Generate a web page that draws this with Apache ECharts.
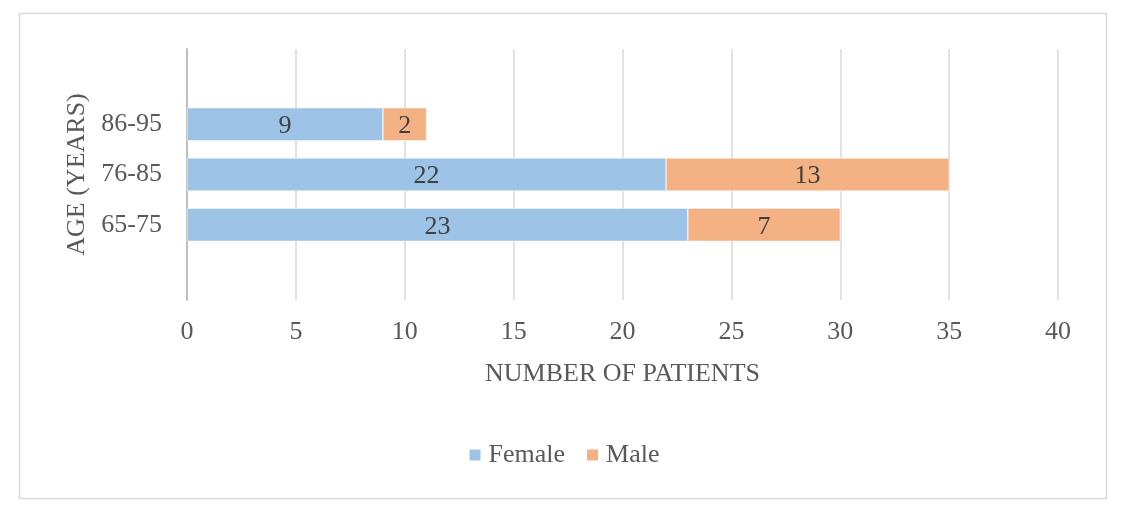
<!DOCTYPE html>
<html>
<head>
<meta charset="utf-8">
<style>
html,body{margin:0;padding:0;background:#fff;}
#chart{width:1127px;height:517px;}
</style>
<script src="https://cdn.jsdelivr.net/npm/echarts@6/dist/echarts.min.js"></script>
</head>
<body>
<div id="chart"></div>
<script>
const categories = ['65-75', '76-85', '86-95'];
const female = [23, 22, 9];
const male = [7, 13, 2];
const xTicks = [0, 5, 10, 15, 20, 25, 30, 35, 40];

// pad with an empty slot below and above (as in the original layout)
const cats = [''].concat(categories, ['']);
const fData = [null].concat(female, [null]);
const mData = [null].concat(male, [null]);

const FONT = '"Liberation Serif", "Times New Roman", serif';
const FS = 26;
const chart = echarts.init(document.getElementById('chart'));
const labelStyle = {show: true, position: 'inside', color: '#404040', fontSize: FS, fontFamily: FONT, offset: [0, 2]};
chart.setOption({
  animation: false,
  graphic: [{
    type: 'rect', shape: {x: 19.5, y: 13.5, width: 1087, height: 485},
    style: {fill: 'none', stroke: '#d9d9d9', lineWidth: 1.5}, silent: true
  }],
  grid: {left: 187, right: 69, top: 49, bottom: 217, containLabel: false},
  legend: {
    bottom: 44, left: 'center', itemWidth: 13, itemHeight: 13, itemGap: 20,
    icon: 'rect',
    textStyle: {color: '#595959', fontSize: FS, fontFamily: FONT, padding: [0, 0, 0, 2]},
    data: ['Female', 'Male']
  },
  xAxis: {
    type: 'value', min: xTicks[0], max: xTicks[xTicks.length - 1], interval: 5,
    name: 'NUMBER OF PATIENTS', nameLocation: 'middle', nameGap: 61,
    nameTextStyle: {color: '#595959', fontSize: FS, fontFamily: FONT},
    axisLine: {show: false}, axisTick: {show: false},
    axisLabel: {color: '#595959', fontSize: FS, fontFamily: FONT, margin: 19},
    splitLine: {show: true, lineStyle: {color: '#d9d9d9', width: 1.5}}
  },
  yAxis: {
    type: 'category', data: cats,
    name: 'AGE (YEARS)', nameLocation: 'middle', nameGap: 93,
    nameTextStyle: {color: '#595959', fontSize: FS, fontFamily: FONT},
    axisLine: {show: true, lineStyle: {color: '#bfbfbf', width: 2}},
    axisTick: {show: false},
    axisLabel: {color: '#595959', fontSize: FS, fontFamily: FONT, margin: 25}
  },
  series: [
    {name: 'Female', type: 'bar', stack: 'total', data: fData, barCategoryGap: '34%',
     itemStyle: {color: '#9dc3e6', borderColor: '#ffffff', borderWidth: 0.5},
     label: labelStyle},
    {name: 'Male', type: 'bar', stack: 'total', data: mData, barCategoryGap: '34%',
     itemStyle: {color: '#f4b183', borderColor: '#ffffff', borderWidth: 0.5},
     label: labelStyle}
  ]
});
</script>
</body>
</html>
